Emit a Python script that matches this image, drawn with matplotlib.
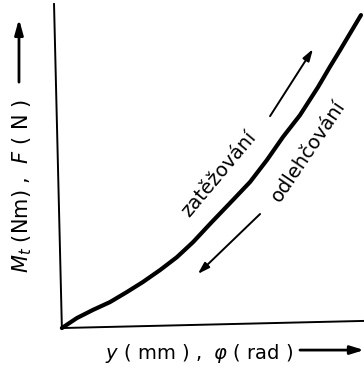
import matplotlib.pyplot as plt

# zatezovaci krivka (normovane jednotky, 0..1)
deflection = [0.0, 0.050, 0.103, 0.159, 0.215, 0.268, 0.325, 0.381, 0.434,
              0.493, 0.566, 0.623, 0.679, 0.732, 0.788, 0.848, 0.887, 0.921, 0.990]
load = [0.0, 0.031, 0.056, 0.080, 0.111, 0.142, 0.179, 0.219, 0.265,
        0.324, 0.395, 0.451, 0.519, 0.590, 0.657, 0.744, 0.806, 0.858, 0.966]

label_x = r"$y$ ( mm ) ,  $\varphi$ ( rad )"
label_y = r"$M_t$ (Nm) ,  $F$ ( N )"
label_up = "zatěžování"
label_down = "odlehčování"


def main():
    fig = plt.figure(figsize=(3.64, 3.69), dpi=100)
    ax = fig.add_axes([0.170, 0.111, 0.830, 0.878])
    ax.set_xlim(0, 1)
    ax.set_ylim(0, 1)
    ax.axis("off")

    # osy (mirne sikme jako na skenu)
    ax.plot([-0.026, 0.0, 1.0], [1.0, 0.0, 0.022], color="black", lw=1.4,
            clip_on=False, solid_joinstyle="miter")

    # krivka
    ax.plot(deflection, load, color="black", lw=3.0, clip_on=False,
            solid_capstyle="round", solid_joinstyle="round")

    arrow = dict(arrowstyle="-|>,head_length=0.7,head_width=0.22",
                 color="black", lw=1.4, shrinkA=0, shrinkB=0)
    ax.annotate("", xy=(0.831, 0.861), xytext=(0.689, 0.654), arrowprops=arrow)
    ax.annotate("", xy=(0.450, 0.167), xytext=(0.656, 0.352), arrowprops=arrow)

    ax.text(0.520, 0.475, label_up, rotation=50, fontsize=14,
            ha="center", va="center", rotation_mode="anchor")
    ax.text(0.815, 0.546, label_down, rotation=56, fontsize=14,
            ha="center", va="center", rotation_mode="anchor")

    # popisky os se sipkami
    ax.text(0.454, -0.080, label_x, fontsize=14, ha="center", va="center")
    ax.annotate("", xy=(1.0, -0.068), xytext=(0.788, -0.068),
                arrowprops=dict(arrowstyle="-|>,head_length=0.8,head_width=0.25",
                                color="black", lw=2.0, shrinkA=0, shrinkB=0),
                annotation_clip=False)
    ax.text(-0.132, 0.438, label_y, fontsize=15, rotation=90,
            ha="center", va="center")
    ax.annotate("", xy=(-0.142, 0.954), xytext=(-0.142, 0.759),
                arrowprops=dict(arrowstyle="-|>,head_length=0.9,head_width=0.25",
                                color="black", lw=2.0, shrinkA=0, shrinkB=0),
                annotation_clip=False)

    fig.savefig("out.png", dpi=100)


if __name__ == "__main__":
    main()
